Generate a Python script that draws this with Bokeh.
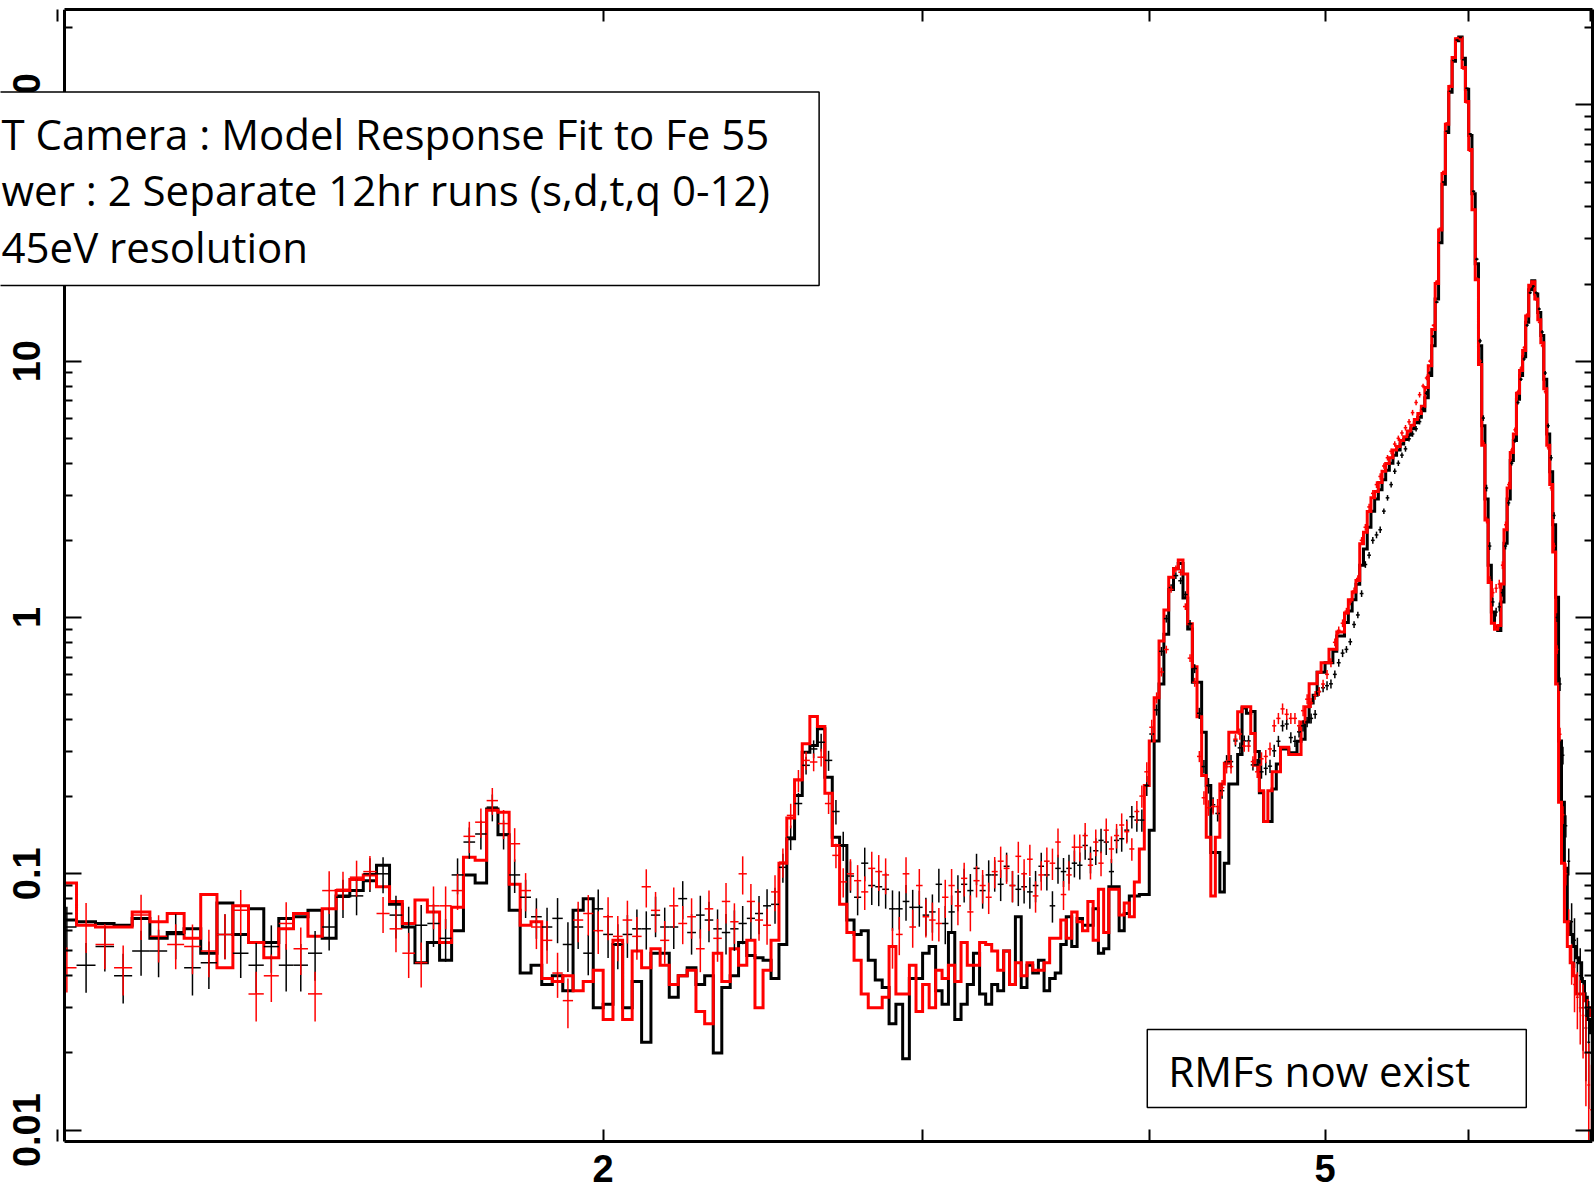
import numpy as np
from bokeh.plotting import figure
from bokeh.models import Range1d, LogAxis, FixedTicker, BoxAnnotation, Label, CustomJSTickFormatter
from bokeh.embed import file_html
from bokeh.resources import INLINE

# Channel centres (keV), 25 eV wide channels
energy_keV = [
    1.0125, 1.0375, 1.0625, 1.0875, 1.1125, 1.1375, 1.1625, 1.1875, 1.2125, 1.2375,
    1.2625, 1.2875, 1.3125, 1.3375, 1.3625, 1.3875, 1.4125, 1.4375, 1.4625, 1.4875,
    1.5125, 1.5375, 1.5625, 1.5875, 1.6125, 1.6375, 1.6625, 1.6875, 1.7125, 1.7375,
    1.7625, 1.7875, 1.8125, 1.8375, 1.8625, 1.8875, 1.9125, 1.9375, 1.9625, 1.9875,
    2.0125, 2.0375, 2.0625, 2.0875, 2.1125, 2.1375, 2.1625, 2.1875, 2.2125, 2.2375,
    2.2625, 2.2875, 2.3125, 2.3375, 2.3625, 2.3875, 2.4125, 2.4375, 2.4625, 2.4875,
    2.5125, 2.5375, 2.5625, 2.5875, 2.6125, 2.6375, 2.6625, 2.6875, 2.7125, 2.7375,
    2.7625, 2.7875, 2.8125, 2.8375, 2.8625, 2.8875, 2.9125, 2.9375, 2.9625, 2.9875,
    3.0125, 3.0375, 3.0625, 3.0875, 3.1125, 3.1375, 3.1625, 3.1875, 3.2125, 3.2375,
    3.2625, 3.2875, 3.3125, 3.3375, 3.3625, 3.3875, 3.4125, 3.4375, 3.4625, 3.4875,
    3.5125, 3.5375, 3.5625, 3.5875, 3.6125, 3.6375, 3.6625, 3.6875, 3.7125, 3.7375,
    3.7625, 3.7875, 3.8125, 3.8375, 3.8625, 3.8875, 3.9125, 3.9375, 3.9625, 3.9875,
    4.0125, 4.0375, 4.0625, 4.0875, 4.1125, 4.1375, 4.1625, 4.1875, 4.2125, 4.2375,
    4.2625, 4.2875, 4.3125, 4.3375, 4.3625, 4.3875, 4.4125, 4.4375, 4.4625, 4.4875,
    4.5125, 4.5375, 4.5625, 4.5875, 4.6125, 4.6375, 4.6625, 4.6875, 4.7125, 4.7375,
    4.7625, 4.7875, 4.8125, 4.8375, 4.8625, 4.8875, 4.9125, 4.9375, 4.9625, 4.9875,
    5.0125, 5.0375, 5.0625, 5.0875, 5.1125, 5.1375, 5.1625, 5.1875, 5.2125, 5.2375,
    5.2625, 5.2875, 5.3125, 5.3375, 5.3625, 5.3875, 5.4125, 5.4375, 5.4625, 5.4875,
    5.5125, 5.5375, 5.5625, 5.5875, 5.6125, 5.6375, 5.6625, 5.6875, 5.7125, 5.7375,
    5.7625, 5.7875, 5.8125, 5.8375, 5.8625, 5.8875, 5.9125, 5.9375, 5.9625, 5.9875,
    6.0125, 6.0375, 6.0625, 6.0875, 6.1125, 6.1375, 6.1625, 6.1875, 6.2125, 6.2375,
    6.2625, 6.2875, 6.3125, 6.3375, 6.3625, 6.3875, 6.4125, 6.4375, 6.4625, 6.4875,
    6.5125, 6.5375, 6.5625, 6.5875, 6.6125, 6.6375, 6.6625, 6.6875, 6.7125, 6.7375,
    6.7625, 6.7875, 6.8125, 6.8375, 6.8625, 6.8875, 6.9125, 6.9375, 6.9625, 6.9875,
    7.0125,
]

# Folded model, run 1 (black)
black_model = [
    0.066, 0.065, 0.064, 0.063, 0.067, 0.056, 0.059, 0.061, 0.049, 0.077,
    0.058, 0.073, 0.054, 0.067, 0.068, 0.072, 0.056, 0.082, 0.086, 0.094,
    0.108, 0.076, 0.062, 0.045, 0.054, 0.046, 0.060, 0.099, 0.092, 0.179,
    0.142, 0.072, 0.041, 0.044, 0.037, 0.040, 0.035, 0.072, 0.080, 0.030,
    0.031, 0.053, 0.030, 0.038, 0.022, 0.049, 0.049, 0.033, 0.040, 0.043,
    0.037, 0.040, 0.020, 0.036, 0.040, 0.054, 0.048, 0.047, 0.046, 0.039,
    0.053, 0.137, 0.202, 0.298, 0.317, 0.368, 0.238, 0.139, 0.129, 0.066,
    0.058, 0.060, 0.046, 0.0385, 0.036, 0.026, 0.031, 0.019, 0.039, 0.039,
    0.049, 0.052, 0.035, 0.031, 0.059, 0.027, 0.031, 0.037, 0.049, 0.034,
    0.031, 0.037, 0.035, 0.050, 0.037, 0.068, 0.036, 0.044, 0.041, 0.046,
    0.035, 0.039, 0.041, 0.053, 0.068, 0.052, 0.067, 0.063, 0.063, 0.073,
    0.049, 0.051, 0.089, 0.089, 0.060, 0.070, 0.082, 0.082, 0.083, 0.083,
    0.148, 0.330, 0.550, 0.861, 1.287, 1.550, 1.624, 1.191, 0.902, 0.559,
    0.559, 0.357, 0.221, 0.121, 0.121, 0.085, 0.110, 0.224, 0.224, 0.292,
    0.443, 0.423, 0.430, 0.300, 0.207, 0.160, 0.160, 0.214, 0.268, 0.307,
    0.307, 0.297, 0.297, 0.329, 0.335, 0.391, 0.464, 0.497, 0.611, 0.611,
    0.666, 0.666, 0.738, 0.847, 0.847, 0.955, 1.059, 1.174, 1.348, 1.60,
    1.85, 2.25, 2.60, 2.90, 3.15, 3.45, 3.75, 4.00, 4.30, 4.50,
    4.75, 4.95, 5.15, 5.45, 5.75, 6.05, 6.40, 7.2, 8.8, 11.5,
    17.5, 29, 49, 78, 112, 148, 178, 184, 152, 115,
    76, 45, 24, 11.5, 5.6, 2.9, 1.6, 1.05, 0.92, 0.89,
    1.15, 1.95, 2.9, 4.1, 4.9, 7.1, 8.8, 10.4, 14.2, 19.0,
    20.6, 18.3, 15.5, 12.6, 8.5, 5.2, 3.7, 2.3, 1.2, 0.33,
    0.19, 0.105, 0.065, 0.058, 0.052, 0.047, 0.045, 0.038, 0.033, 0.027,
    0.024,
]

# Folded model, run 2 (red)
red_model = [
    0.092, 0.063, 0.062, 0.062, 0.071, 0.065, 0.070, 0.056, 0.083, 0.043,
    0.075, 0.054, 0.047, 0.061, 0.070, 0.057, 0.073, 0.086, 0.095, 0.099,
    0.089, 0.078, 0.064, 0.079, 0.071, 0.054, 0.074, 0.116, 0.113, 0.177,
    0.174, 0.091, 0.063, 0.065, 0.039, 0.038, 0.040, 0.035, 0.038, 0.042,
    0.027, 0.055, 0.027, 0.050, 0.043, 0.051, 0.044, 0.037, 0.040, 0.042,
    0.029, 0.026, 0.049, 0.038, 0.051, 0.044, 0.055, 0.030, 0.042, 0.055,
    0.110, 0.165, 0.233, 0.322, 0.411, 0.376, 0.206, 0.129, 0.076, 0.059,
    0.046, 0.034, 0.030, 0.030, 0.033, 0.052, 0.034, 0.034, 0.044, 0.029,
    0.037, 0.030, 0.042, 0.039, 0.044, 0.038, 0.054, 0.044, 0.044, 0.054,
    0.053, 0.050, 0.042, 0.050, 0.037, 0.045, 0.040, 0.045, 0.042, 0.042,
    0.045, 0.056, 0.056, 0.066, 0.056, 0.071, 0.065, 0.060, 0.078, 0.055,
    0.087, 0.059, 0.087, 0.087, 0.069, 0.077, 0.068, 0.093, 0.125, 0.221,
    0.330, 0.486, 0.810, 1.070, 1.435, 1.550, 1.675, 1.479, 0.945, 0.642,
    0.410, 0.242, 0.139, 0.082, 0.139, 0.224, 0.270, 0.357, 0.357, 0.429,
    0.449, 0.449, 0.353, 0.265, 0.211, 0.160, 0.211, 0.250, 0.250, 0.312,
    0.312, 0.292, 0.292, 0.292, 0.391, 0.448, 0.551, 0.551, 0.611, 0.666,
    0.666, 0.751, 0.751, 0.877, 0.877, 1.041, 1.174, 1.257, 1.394, 1.94,
    2.15, 2.59, 2.93, 3.10, 3.36, 3.72, 3.99, 4.20, 4.50, 4.65,
    4.90, 5.07, 5.34, 5.62, 5.92, 6.25, 6.67, 7.9, 9.6, 13.3,
    20.1, 32.5, 54, 84, 118, 153, 181, 182, 140, 103,
    67, 39, 20.8, 9.7, 4.7, 2.4, 1.37, 0.95, 0.90, 0.93,
    1.35, 2.2, 3.2, 4.4, 5.2, 7.5, 9.2, 11.0, 15.0, 19.8,
    20.4, 17.5, 14.5, 11.8, 7.8, 4.7, 3.3, 1.8, 0.55, 0.19,
    0.11, 0.065, 0.052, 0.045, 0.040, 0.034, 0.034, 0.034, 0.032, 0.030,
    0.028,
]

# Measured rates, run 1 (black)
black_data = [
    0.062, 0.044, 0.052, 0.040, 0.050, 0.050, 0.058, 0.043, 0.045, 0.058,
    0.049, 0.044, 0.052, 0.044, 0.044, 0.049, 0.062, 0.081, 0.082, 0.100,
    0.100, 0.069, 0.062, 0.063, 0.064, 0.056, 0.099, 0.133, 0.143, 0.182,
    0.143, 0.099, 0.081, 0.068, 0.062, 0.067, 0.053, 0.062, 0.049, 0.073,
    0.058, 0.053, 0.058, 0.061, 0.061, 0.069, 0.062, 0.062, 0.080, 0.059,
    0.069, 0.066, 0.061, 0.059, 0.061, 0.064, 0.067, 0.070, 0.075, 0.076,
    0.106, 0.139, 0.188, 0.265, 0.307, 0.326, 0.277, 0.175, 0.129, 0.098,
    0.081, 0.110, 0.090, 0.089, 0.087, 0.073, 0.073, 0.078, 0.074, 0.074,
    0.069, 0.071, 0.091, 0.064, 0.071, 0.085, 0.091, 0.086, 0.105, 0.086,
    0.099, 0.099, 0.091, 0.107, 0.090, 0.087, 0.089, 0.085, 0.090, 0.107,
    0.099, 0.075, 0.105, 0.102, 0.105, 0.110, 0.108, 0.129, 0.114, 0.123,
    0.135, 0.133, 0.102, 0.135, 0.137, 0.148, 0.167, 0.162, 0.162, 0.221,
    0.351, 0.436, 0.738, 0.990, 1.308, 1.457, 1.391, 1.229, 0.945, 0.632,
    0.423, 0.262, 0.221, 0.186, 0.172, 0.211, 0.274, 0.274, 0.330, 0.310,
    0.330, 0.330, 0.266, 0.266, 0.250, 0.258, 0.263, 0.302, 0.329, 0.378,
    0.384, 0.340, 0.329, 0.358, 0.378, 0.391, 0.404, 0.419, 0.514, 0.532,
    0.542, 0.551, 0.600, 0.666, 0.726, 0.751, 0.804, 0.939, 1.023, 1.24,
    1.61, 1.75, 2.0, 2.1, 2.2, 2.6, 2.93, 3.3, 3.72, 4.0,
    4.3, 4.55, 4.98, 5.2, 5.45, 5.81, 6.5, 7.5, 9.0, 12.5,
    17.0, 29, 50, 79, 113, 149, 179, 183, 150, 116,
    77, 46, 25, 12, 6.0, 3.2, 1.9, 1.15, 1.05, 1.10,
    1.25, 1.9, 2.8, 4.0, 4.9, 6.9, 8.5, 10.2, 13.8, 18.5,
    19.6, 18.5, 16.0, 13.0, 9.0, 5.6, 4.2, 2.5, 1.0, 0.55,
    0.29, 0.154, 0.112, 0.065, 0.055, 0.045, 0.040, 0.030, 0.025, 0.022,
    0.020,
]

# Measured rates, run 2 (red)
red_data = [
    0.043, 0.063, 0.053, 0.043, 0.069, 0.057, 0.053, 0.052, 0.050, 0.058,
    0.072, 0.034, 0.040, 0.064, 0.051, 0.034, 0.086, 0.087, 0.097, 0.102,
    0.070, 0.061, 0.049, 0.045, 0.075, 0.075, 0.086, 0.140, 0.159, 0.193,
    0.157, 0.131, 0.086, 0.062, 0.055, 0.041, 0.032, 0.066, 0.070, 0.060,
    0.068, 0.057, 0.066, 0.057, 0.089, 0.072, 0.055, 0.075, 0.064, 0.068,
    0.051, 0.073, 0.056, 0.078, 0.065, 0.100, 0.078, 0.066, 0.063, 0.085,
    0.111, 0.169, 0.231, 0.277, 0.273, 0.285, 0.188, 0.118, 0.093, 0.100,
    0.094, 0.085, 0.105, 0.102, 0.099, 0.052, 0.058, 0.100, 0.062, 0.090,
    0.068, 0.066, 0.064, 0.081, 0.090, 0.075, 0.096, 0.071, 0.094, 0.090,
    0.081, 0.102, 0.112, 0.105, 0.090, 0.117, 0.100, 0.114, 0.082, 0.099,
    0.112, 0.110, 0.133, 0.083, 0.099, 0.127, 0.127, 0.141, 0.108, 0.133,
    0.110, 0.148, 0.125, 0.141, 0.155, 0.146, 0.125, 0.175, 0.201, 0.250,
    0.373, 0.486, 0.613, 0.750, 1.287, 1.550, 1.502, 1.103, 0.694, 0.559,
    0.287, 0.198, 0.181, 0.183, 0.183, 0.217, 0.262, 0.262, 0.335, 0.351,
    0.315, 0.315, 0.274, 0.250, 0.281, 0.287, 0.307, 0.378, 0.404, 0.440,
    0.419, 0.404, 0.404, 0.378, 0.433, 0.480, 0.464, 0.497, 0.514, 0.550,
    0.600, 0.666, 0.800, 0.891, 0.950, 1.059, 1.150, 1.270, 1.420, 2.0,
    2.25, 2.7, 3.05, 3.3, 3.55, 3.9, 4.2, 4.45, 4.75, 5.0,
    5.25, 5.5, 5.8, 6.3, 6.9, 7.4, 8.0, 8.6, 10.0, 13.8,
    20.5, 33, 55, 85, 119, 154, 182, 180, 138, 102,
    66, 39, 21, 10, 4.8, 2.4, 1.4, 1.25, 1.30, 1.35,
    1.60, 2.3, 3.3, 4.5, 5.4, 7.6, 9.4, 11.3, 15.2, 19.5,
    20.2, 17.4, 14.2, 11.5, 7.6, 4.6, 3.2, 1.9, 0.75, 0.35,
    0.17, 0.10, 0.065, 0.045, 0.037, 0.033, 0.030, 0.028, 0.020, 0.015,
    0.012,
]

# Fractional 1-sigma uncertainty of each channel
err_frac = [
    0.20, 0.22, 0.20, 0.22, 0.20, 0.21, 0.20, 0.22, 0.21, 0.20,
    0.20, 0.22, 0.21, 0.21, 0.21, 0.22, 0.19, 0.17, 0.16, 0.15,
    0.16, 0.19, 0.20, 0.20, 0.19, 0.19, 0.16, 0.14, 0.13, 0.12,
    0.13, 0.15, 0.17, 0.18, 0.19, 0.20, 0.22, 0.18, 0.18, 0.19,
    0.19, 0.20, 0.19, 0.19, 0.17, 0.18, 0.19, 0.18, 0.17, 0.18,
    0.19, 0.18, 0.19, 0.18, 0.18, 0.17, 0.17, 0.17, 0.16, 0.16,
    0.13, 0.11, 0.10, 0.08, 0.08, 0.08, 0.09, 0.11, 0.13, 0.14,
    0.15, 0.15, 0.16, 0.16, 0.16, 0.18, 0.17, 0.16, 0.17, 0.16,
    0.17, 0.17, 0.15, 0.17, 0.16, 0.16, 0.15, 0.16, 0.14, 0.15,
    0.14, 0.14, 0.14, 0.13, 0.14, 0.14, 0.14, 0.14, 0.14, 0.13,
    0.13, 0.14, 0.13, 0.13, 0.13, 0.12, 0.12, 0.12, 0.12, 0.12,
    0.11, 0.11, 0.12, 0.11, 0.11, 0.10, 0.10, 0.10, 0.10, 0.09,
    0.07, 0.05, 0.04, 0.035, 0.03, 0.03, 0.03, 0.03, 0.035, 0.04,
    0.05, 0.06, 0.07, 0.07, 0.07, 0.07, 0.06, 0.06, 0.05, 0.05,
    0.05, 0.05, 0.05, 0.055, 0.06, 0.06, 0.06, 0.055, 0.05, 0.05,
    0.05, 0.05, 0.05, 0.05, 0.05, 0.045, 0.045, 0.04, 0.04, 0.04,
    0.04, 0.04, 0.035, 0.035, 0.035, 0.03, 0.03, 0.03, 0.03, 0.03,
    0.03, 0.03, 0.03, 0.03, 0.03, 0.025, 0.025, 0.025, 0.025, 0.025,
    0.025, 0.025, 0.025, 0.025, 0.025, 0.025, 0.02, 0.02, 0.015, 0.012,
    0.01, 0.008, 0.006, 0.005, 0.005, 0.004, 0.004, 0.005, 0.005, 0.006,
    0.008, 0.01, 0.012, 0.02, 0.025, 0.03, 0.035, 0.04, 0.04, 0.04,
    0.035, 0.03, 0.025, 0.02, 0.02, 0.018, 0.016, 0.015, 0.013, 0.012,
    0.012, 0.012, 0.013, 0.015, 0.018, 0.02, 0.025, 0.03, 0.04, 0.06,
    0.08, 0.10, 0.12, 0.18, 0.22, 0.25, 0.28, 0.32, 0.38, 0.45,
    0.5,
]

x_ticks = [1, 2, 3, 4, 5, 6, 7]
x_tick_labels = ["", "2", "", "", "5", "", ""]
y_ticks = [0.01, 0.1, 1, 10, 100]
y_tick_labels = ["0.01", "0.1", "1", "10", "100"]
y_minor_ticks = [0.02, 0.03, 0.04, 0.05, 0.06, 0.07, 0.08, 0.09,
                 0.2, 0.3, 0.4, 0.5, 0.6, 0.7, 0.8, 0.9,
                 2, 3, 4, 5, 6, 7, 8, 9,
                 20, 30, 40, 50, 60, 70, 80, 90, 200]

info_lines = [
    "T Camera : Model Response Fit to Fe 55",
    "wer : 2 Separate 12hr runs (s,d,t,q 0-12)",
    "45eV resolution",
]
note_text = "RMFs now exist"

series = [black_model, red_model, black_data, red_data, err_frac]
assert all(len(s) == len(energy_keV) for s in series), [len(s) for s in series]

# The frame fills the canvas to the left and bottom edges; the two labelled
# axes are pinned at the lower-left corner of the plotted box.
x_view = (0.9307, 7.021)
x_axis_start = 1.0094
y_view = (0.005458, 235.6)
y_axis_floor = 0.00903

E = np.array(energy_keV)
mid = 0.5 * (E[1:] + E[:-1])
lo = np.concatenate([[2 * E[0] - mid[0]], mid])
hi = np.concatenate([mid, [2 * E[-1] - mid[-1]]])
lo[0] = max(lo[0], x_axis_start)
frac = np.array(err_frac)

p = figure(
    width=1595, height=1197,
    x_axis_type="log", y_axis_type="log",
    x_range=Range1d(*x_view), y_range=Range1d(*y_view),
    output_backend="svg", toolbar_location=None,
    min_border_left=0, min_border_right=3, min_border_top=9, min_border_bottom=0,
)
p.background_fill_color = "white"
p.border_fill_color = "white"
p.outline_line_color = None
p.xgrid.visible = False
p.ygrid.visible = False


def step_path(values):
    xs = np.column_stack([lo, hi]).ravel()
    ys = np.repeat(np.asarray(values, dtype=float), 2)
    return xs, ys


for vals, col in ((black_model, "black"), (red_model, "red")):
    xs, ys = step_path(vals)
    p.line(xs, ys, line_color=col, line_width=3, line_join="miter")

for vals, col in ((black_data, "black"), (red_data, "red")):
    v = np.asarray(vals, dtype=float)
    p.segment(x0=lo, y0=v, x1=hi, y1=v, line_color=col, line_width=1.5)
    y_low = np.maximum(v * (1 - frac), y_axis_floor)
    p.segment(x0=E, y0=y_low, x1=E, y1=v * (1 + frac), line_color=col, line_width=1.5)

label_js = """
for (let i = 0; i < tick_vals.length; i++) {
    if (Math.abs(tick_vals[i] - tick) <= 1e-6 * Math.abs(tick_vals[i])) return tick_text[i];
}
return "";
"""

x_ticker = FixedTicker(ticks=x_ticks, minor_ticks=[])
y_ticker = FixedTicker(ticks=y_ticks, minor_ticks=y_minor_ticks)


def style_axis(ax, ticker, major_len, minor_len):
    ax.ticker = ticker
    ax.axis_line_width = 3
    ax.axis_line_color = "black"
    ax.major_tick_in = major_len
    ax.major_tick_out = 0
    ax.minor_tick_in = minor_len
    ax.minor_tick_out = 0
    ax.major_tick_line_width = 2
    ax.minor_tick_line_width = 2
    ax.major_tick_line_color = "black"
    ax.minor_tick_line_color = "black"


xa = p.xaxis[0]
style_axis(xa, x_ticker, 12, 0)
xa.fixed_location = y_axis_floor
xa.bounds = (x_axis_start, x_view[1])
xa.formatter = CustomJSTickFormatter(args=dict(tick_vals=x_ticks, tick_text=x_tick_labels), code=label_js)
xa.major_label_text_font = "Liberation Sans"
xa.major_label_text_font_style = "bold"
xa.major_label_text_font_size = "38px"
xa.major_label_text_color = "black"
xa.major_label_standoff = 14

ya = p.yaxis[0]
style_axis(ya, y_ticker, 17, 8)
ya.fixed_location = x_axis_start
ya.bounds = (y_axis_floor, y_view[1])
ya.formatter = CustomJSTickFormatter(args=dict(tick_vals=y_ticks, tick_text=y_tick_labels), code=label_js)
ya.major_label_orientation = "vertical"
ya.major_label_text_font = "Liberation Sans"
ya.major_label_text_font_style = "bold"
ya.major_label_text_font_size = "38px"
ya.major_label_text_color = "black"
ya.major_label_standoff = 24

# Frame sides without labels
top_ax = LogAxis()
style_axis(top_ax, x_ticker, 12, 0)
top_ax.bounds = (x_axis_start, x_view[1])
top_ax.major_label_text_font_size = "10px"
top_ax.major_label_standoff = 0
top_ax.major_label_text_alpha = 0
p.add_layout(top_ax, "above")

right_ax = LogAxis()
style_axis(right_ax, y_ticker, 17, 8)
right_ax.bounds = (y_axis_floor, y_view[1])
right_ax.major_label_text_font_size = "10px"
right_ax.major_label_standoff = 0
right_ax.major_label_text_alpha = 0
p.add_layout(right_ax, "right")

# Annotation boxes
info_box = BoxAnnotation(left=0.9206, right=2.6307, top=112.3, bottom=19.74,
                         fill_color="white", fill_alpha=1.0,
                         line_color="black", line_alpha=1.0, line_width=1.5,
                         level="overlay")
p.add_layout(info_box)

for txt, yb in zip(info_lines, [77.3, 46.8, 28.03]):
    p.add_layout(Label(x=0.9319, y=yb, text=txt, text_font="Open Sans",
                       text_font_size="42px", text_color="black",
                       text_baseline="alphabetic", text_align="left", level="overlay"))

note_box = BoxAnnotation(left=3.990, right=6.455, top=0.02470, bottom=0.01226,
                         fill_color="white", fill_alpha=1.0,
                         line_color="black", line_alpha=1.0, line_width=1.5,
                         level="overlay")
p.add_layout(note_box)
p.add_layout(Label(x=4.098, y=0.01708, text=note_text, text_font="Open Sans",
                   text_font_size="42px", text_color="black",
                   text_baseline="alphabetic", text_align="left", level="overlay"))

open("out.html", "w").write(file_html(p, INLINE))
